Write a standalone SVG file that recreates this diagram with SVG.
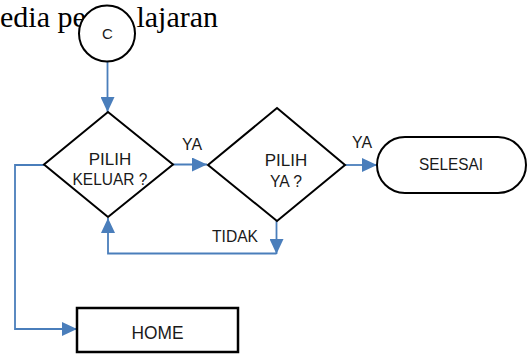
<svg xmlns="http://www.w3.org/2000/svg" width="529" height="354" viewBox="0 0 529 354">
<style>
.bg{font-family:"Liberation Serif","Times New Roman",serif;font-size:30px;fill:#000}
.lbl{font-family:"Liberation Sans",Arial,sans-serif;font-size:17px;fill:#1a1a1a;text-anchor:middle}
.shape{fill:#fff;stroke:#000;stroke-width:2}
.conn{fill:none;stroke:#4a7ebb;stroke-width:1.8}
</style>
<defs>
<marker id="arr" markerUnits="userSpaceOnUse" markerWidth="15" markerHeight="14" refX="15" refY="7" orient="auto">
<path d="M0,0 L15,7 L0,14 z" fill="#4a7ebb"/>
</marker>
</defs>
<text class="bg" x="0" y="27">edia pe</text>
<text class="bg" x="218" y="27" text-anchor="end">lajaran</text>
<g id="connectors">
<path class="conn" d="M107.5,61 L107.5,112" marker-end="url(#arr)"/>
<path class="conn" d="M173,164.5 L207,164.5" marker-end="url(#arr)"/>
<path class="conn" d="M345,165 L377,165" marker-end="url(#arr)"/>
<path class="conn" d="M276.5,221 L276.5,254" marker-end="url(#arr)"/>
<path class="conn" d="M276.5,253.5 L108,253.5 L108,218" marker-end="url(#arr)"/>
<path class="conn" d="M44,165 L15,165 L15,329 L77,329" marker-end="url(#arr)"/>
<text class="lbl" x="192" y="150" textLength="20" lengthAdjust="spacingAndGlyphs">YA</text>
<text class="lbl" x="362" y="148" textLength="20" lengthAdjust="spacingAndGlyphs">YA</text>
<text class="lbl" x="235" y="242" textLength="46" lengthAdjust="spacingAndGlyphs">TIDAK</text>
</g>
<g id="node-c">
<circle class="shape" cx="107" cy="33.5" r="28"/>
<text class="lbl" x="107.5" y="39" style="font-size:15px">C</text>
</g>
<g id="node-keluar">
<polygon class="shape" points="108,112 173,164.5 108,217 44,164.5"/>
<text class="lbl" x="110" y="165">PILIH</text>
<text class="lbl" x="110" y="185" textLength="75" lengthAdjust="spacingAndGlyphs">KELUAR ?</text>
</g>
<g id="node-ya">
<polygon class="shape" points="277,108 345,165 277,221 208,165"/>
<text class="lbl" x="286" y="166">PILIH</text>
<text class="lbl" x="286" y="187" textLength="32" lengthAdjust="spacingAndGlyphs">YA ?</text>
</g>
<g id="node-selesai">
<rect class="shape" x="377" y="137" width="149" height="56" rx="28" ry="28"/>
<text class="lbl" x="451" y="170" textLength="64" lengthAdjust="spacingAndGlyphs">SELESAI</text>
</g>
<g id="node-home">
<rect class="shape" x="77" y="308" width="161" height="44" style="stroke-width:2.5"/>
<text class="lbl" x="157.5" y="339" style="font-size:19px" textLength="52" lengthAdjust="spacingAndGlyphs">HOME</text>
</g>
</svg>
